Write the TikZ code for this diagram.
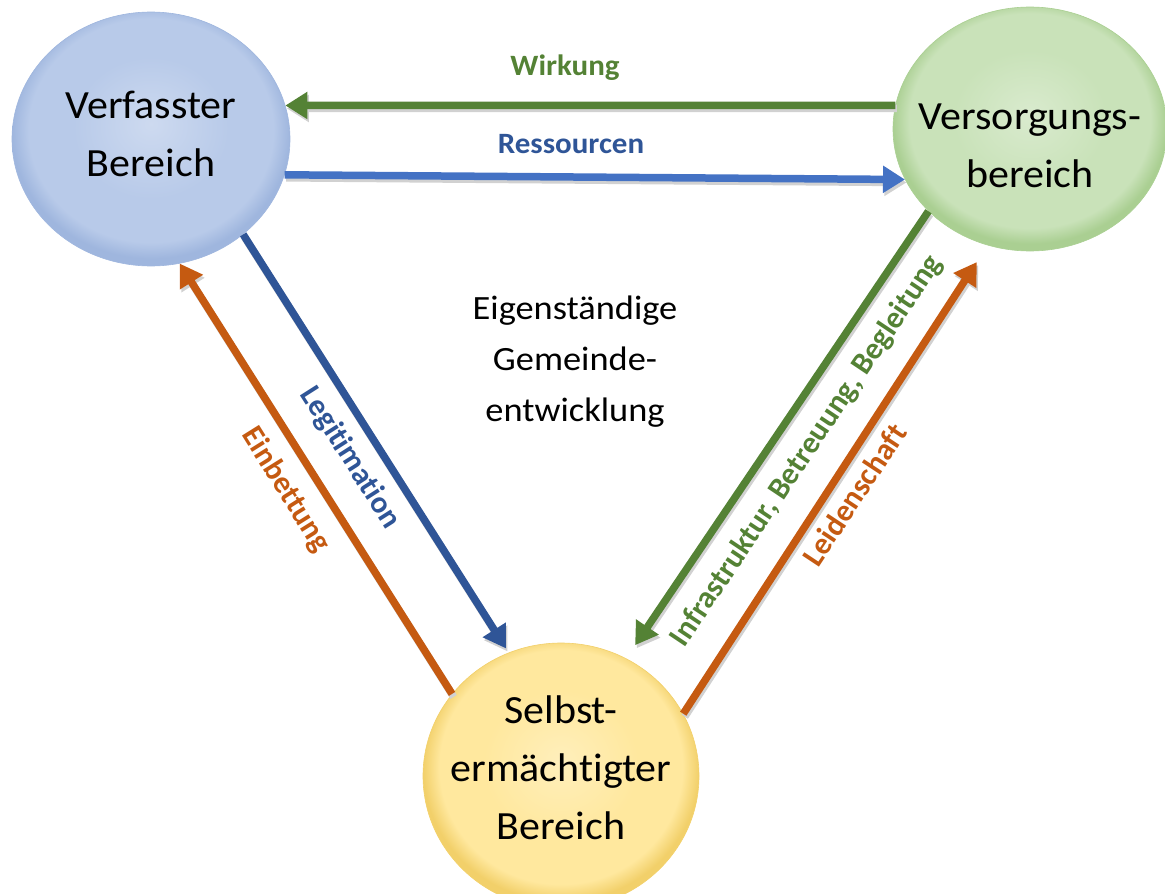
\documentclass[tikz,border=0pt]{standalone}
\usepackage{fontspec}
\setmainfont{Carlito}[Ligatures=NoCommon]
\usetikzlibrary{shapes.geometric,arrows.meta}
\definecolor{vin}{HTML}{B8CAE9}
\definecolor{vout}{HTML}{9FB6DE}
\definecolor{gin}{HTML}{C9E2B9}
\definecolor{gout}{HTML}{AACF92}
\definecolor{yin}{HTML}{FFE89E}
\definecolor{yout}{HTML}{F2D06A}
\definecolor{agreen}{HTML}{548235}
\definecolor{ablue}{HTML}{4472C4}
\definecolor{dblue}{HTML}{2F5597}
\definecolor{aorange}{HTML}{C55A11}
\pgfdeclareradialshading{vball}{\pgfpoint{0bp}{3bp}}{color(0bp)=(vin!70!white); color(14bp)=(vin); color(22bp)=(vin); color(25bp)=(vout); color(50bp)=(vout)}
\pgfdeclareradialshading{gball}{\pgfpoint{0bp}{3bp}}{color(0bp)=(gin!70!white); color(14bp)=(gin); color(22bp)=(gin); color(25bp)=(gout); color(50bp)=(gout)}
\pgfdeclareradialshading{yball}{\pgfpoint{0bp}{3bp}}{color(0bp)=(yin!70!white); color(14bp)=(yin); color(22bp)=(yin); color(25bp)=(yout); color(50bp)=(yout)}
\tikzset{
  x=1pt, y=-1pt,
  ball/.style={ellipse, inner sep=0pt, draw=#1, line width=0.6pt},
  ctext/.style={align=center, font=\fontsize{40}{58}\selectfont, xscale=1.05, inner sep=0pt},
  mtext/.style={align=center, font=\fontsize{34}{51}\selectfont, xscale=1.07, inner sep=0pt},
  lbl/.style={font=\bfseries\fontsize{29.5}{31}\selectfont, xscale=1.05, inner sep=0pt},
  rlbl/.style={font=\bfseries\fontsize{31}{33}\selectfont, inner sep=0pt},
  conn/.style={line width=7.5pt, draw=#1, -{Triangle[length=22pt,width=26pt]},
    preaction={draw=black!18, line width=7.5pt, -{Triangle[length=22pt,width=26pt]}, transform canvas={shift={(1.5pt,-3pt)}}}},
}
\begin{document}
\begin{tikzpicture}
\useasboundingbox (0,0) rectangle (1165,894);
\clip (0,0) rectangle (1165,894);
% circles
\node[ball=vout, shading=vball, minimum width=278pt, minimum height=254pt] (V) at (151,139) {};
\node[ball=gout, shading=gball, minimum width=274pt, minimum height=244pt] (G) at (1030,129) {};
\node[ball=yout, shading=yball, minimum width=276pt, minimum height=266pt] (S) at (561,776) {};
% circle texts
\node[ctext] (vt) at (151,134) {Verfasster\\Bereich};
\node[ctext] (gt) at (1030,146) {Versorgungs-\\bereich};
\node[ctext] (st) at (561,768) {Selbst-\\ermächtigter\\Bereich};
% centre text
\node[mtext] (mt) at (575,362) {Eigenständige\\Gemeinde-\\entwicklung};
% connectors
\draw[conn=agreen] (G.170) -- (V.14);
\draw[conn=ablue] (V.-15) -- (G.-158);
\draw[conn=dblue, shorten >=5pt] (V.-46) -- (S.113);
\draw[conn=aorange] (S.143) -- (V.-77);
\draw[conn=agreen, shorten >=16pt] (G.-141) -- (S.61);
\draw[conn=aorange, shorten >=20pt] (S.27) -- (G.-110);
% labels
\node[lbl, text=agreen] (lw) at (565,68) {Wirkung};
\node[lbl, text=dblue] (lr) at (571,144) {Ressourcen};
\node[rlbl, text=dblue, rotate=-57.5] (ll) at (350,458) {Legitimation};
\node[rlbl, text=aorange, rotate=-58] (le) at (286,490) {Einbettung};
\node[rlbl, text=agreen, rotate=56.2] (li) at (807,451) {Infrastruktur, Betreuung, Begleitung};
\node[rlbl, text=aorange, rotate=56.5] (lp) at (854,495) {Leidenschaft};
\end{tikzpicture}
\end{document}
